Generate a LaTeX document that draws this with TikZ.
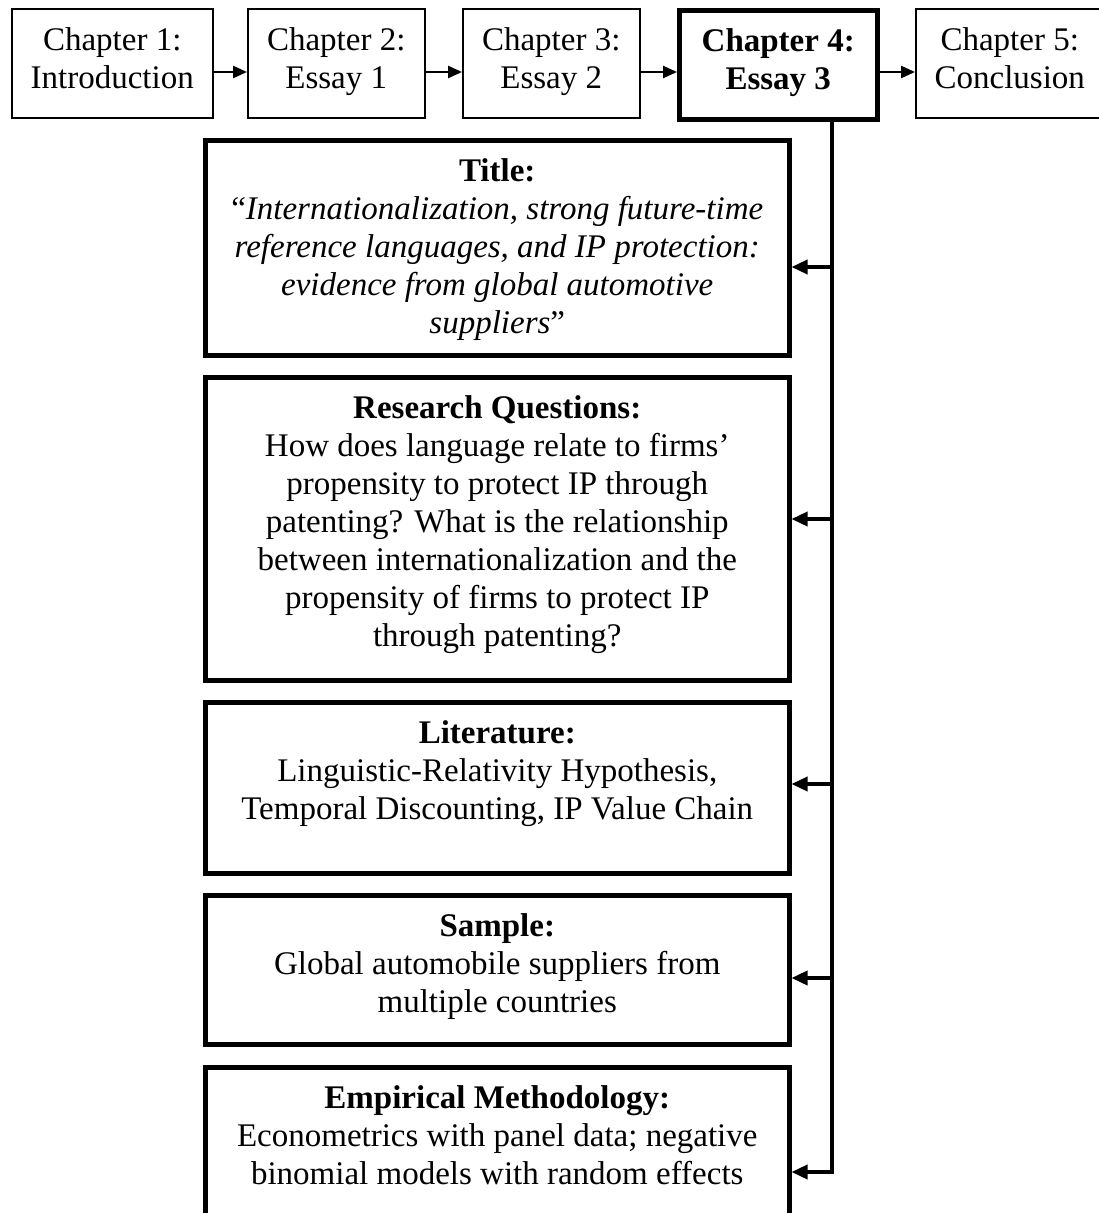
\documentclass[tikz,border=0pt]{standalone}
\usepackage{fontspec}
\setmainfont{Liberation Serif}
\usetikzlibrary{arrows.meta}

% Box contents: fixed-size parbox, text centred and hung from the top
\newcommand{\boxtext}[3]{%
  \parbox[c][#2pt][t]{#1pt}{\centering\fontsize{33}{38}\selectfont
    \vspace*{15pt}\strut #3\par}}

\tikzset{
  thinbox/.style={draw, line width=1.5pt, inner sep=0pt, anchor=north west},
  boldbox/.style={draw, line width=4.5pt, inner sep=0pt, anchor=north west},
  flow/.style={-{Triangle[length=14pt,width=12pt]}, line width=2.5pt},
  branch/.style={-{Triangle[length=16pt,width=14pt]}, line width=3.5pt},
}

\begin{document}
\begin{tikzpicture}[x=1pt,y=-1pt]
\useasboundingbox (0,0) rectangle (1098,1213);

% Chapter sequence
\node[thinbox] (c1) at (11,8)  {\boxtext{201}{109}{Chapter 1:\\Introduction}};
\node[thinbox] (c2) at (247,8) {\boxtext{177}{109}{Chapter 2:\\Essay 1}};
\node[thinbox] (c3) at (462,8) {\boxtext{177}{109}{Chapter 3:\\Essay 2}};
\node[boldbox] (c4) at (677,8) {\boxtext{198}{109}{\textbf{Chapter 4:}\\\textbf{Essay 3}}};
\node[thinbox] (c5) at (915,8) {\boxtext{188}{109}{Chapter 5:\\Conclusion}};

% Arrows between chapters, all on one level
\coordinate (row) at (0,72);
\draw[flow] (c1.east |- row) -- (c2.west |- row);
\draw[flow] (c2.east |- row) -- (c3.west |- row);
\draw[flow] (c3.east |- row) -- (c4.west |- row);
\draw[flow] (c4.east |- row) -- (c5.west |- row);

% Details of chapter 4
\node[boldbox] (title) at (203,138) {\boxtext{584}{215}{%
  \textbf{Title:}\\
  “\textit{Internationalization, strong future-time}\\
  \textit{reference languages, and IP protection:}\\
  \textit{evidence from global automotive}\\
  \textit{suppliers}”}};
\node[boldbox] (rq) at (203,375) {\boxtext{584}{303}{%
  \textbf{Research Questions:}\\
  How does language relate to firms’\\
  propensity to protect IP through\\
  patenting? What is the relationship\\
  between internationalization and the\\
  propensity of firms to protect IP\\
  through patenting?}};
\node[boldbox] (lit) at (203,700) {\boxtext{584}{171}{%
  \textbf{Literature:}\\
  Linguistic-Relativity Hypothesis,\\
  Temporal Discounting, IP Value Chain}};
\node[boldbox] (samp) at (203,893) {\boxtext{584}{149}{%
  \textbf{Sample:}\\
  Global automobile suppliers from\\
  multiple countries}};
\node[boldbox] (emp) at (203,1065) {\boxtext{584}{170}{%
  \textbf{Empirical Methodology:}\\
  Econometrics with panel data; negative\\
  binomial models with random effects}};

% Spine from chapter 4 with its branches
\coordinate (jT) at (832,267);
\coordinate (jR) at (832,519);
\coordinate (jL) at (832,784);
\coordinate (jS) at (832,978);
\coordinate (jE) at (832,1172);

\draw[branch] (c4.south -| jT) -- (jE) -- (jE -| emp.east);
\draw[branch] (jT) -- (jT -| title.east);
\draw[branch] (jR) -- (jR -| rq.east);
\draw[branch] (jL) -- (jL -| lit.east);
\draw[branch] (jS) -- (jS -| samp.east);
\end{tikzpicture}
\end{document}
